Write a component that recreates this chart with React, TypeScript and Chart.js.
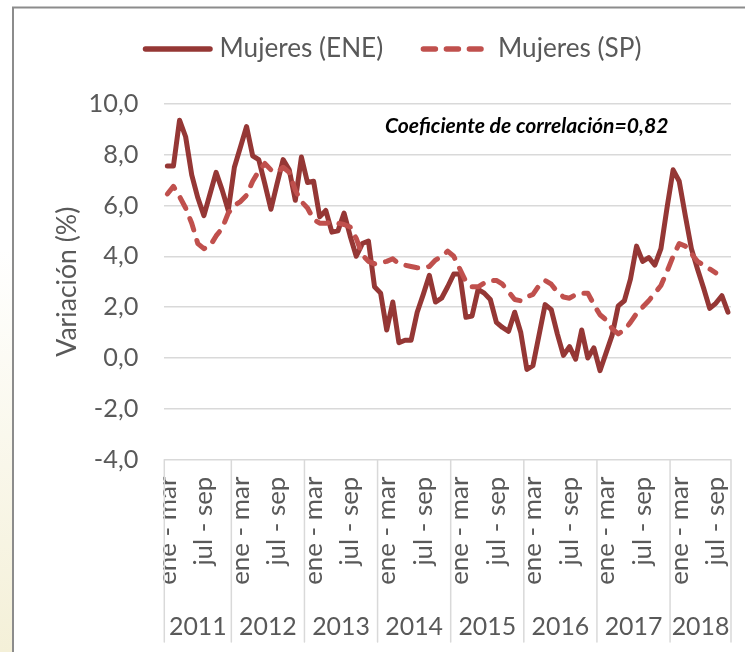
import React, { useEffect, useRef } from 'react';
import { Chart, registerables } from 'chart.js';

Chart.register(...registerables);

const FAMILY = 'Lato, "Open Sans", "DejaVu Sans", sans-serif';

// ---- data ----
const quarterNames = [
  'dic - feb', 'ene - mar', 'feb - abr', 'mar - may', 'abr - jun', 'may - jul',
  'jun - ago', 'jul - sep', 'ago - oct', 'sep - nov', 'oct - dic', 'nov - ene',
];
const years = ['2011', '2012', '2013', '2014', '2015', '2016', '2017', '2018'];
const firstQuarterOfYear = [1, 0, 0, 0, 0, 0, 0, 0];
const quartersInYear = [11, 12, 12, 12, 12, 12, 12, 10];
const shownTickLabels = ['ene - mar', 'jul - sep'];

const eneValues = [
  7.55, 7.55, 9.35, 8.7, 7.2, 6.3, 5.6, 6.45, 7.3, 6.6, 5.8,
  7.5, 8.3, 9.1, 7.95, 7.8, 6.85, 5.85, 6.85, 7.8, 7.4, 6.2, 7.9,
  6.9, 6.95, 5.55, 5.8, 4.95, 5.0, 5.7, 4.8, 4.0, 4.5, 4.6, 2.8,
  2.55, 1.1, 2.2, 0.6, 0.7, 0.7, 1.8, 2.5, 3.25, 2.2, 2.35, 2.8,
  3.3, 3.3, 1.6, 1.65, 2.7, 2.55, 2.3, 1.4, 1.2, 1.05, 1.8, 1.0,
  -0.45, -0.3, 0.9, 2.1, 1.9, 0.95, 0.1, 0.45, -0.05, 1.1, 0.0, 0.4,
  -0.5, 0.2, 0.9, 2.05, 2.25, 3.1, 4.4, 3.8, 3.95, 3.65, 4.3, 5.9,
  7.4, 6.95, 5.6, 4.3, 3.5, 2.75, 1.95, 2.15, 2.45, 1.8,
];
const spValues: (number | null)[] = [
  6.45, 6.75, 6.35, 5.9, 5.3, 4.5, 4.3, 4.4, 4.8, 5.1, 5.7,
  6.0, 6.15, 6.4, 6.95, 7.35, 7.65, 7.4, 7.3, 7.5, 7.3, 6.6, 6.15,
  5.9, 5.45, 5.3, 5.3, 5.35, 5.3, 5.25, 5.15, 4.7, 4.05, 3.8, 3.7,
  3.75, 3.8, 3.9, 3.7, 3.65, 3.6, 3.55, 3.55, 3.6, 3.85, 4.0, 4.2,
  4.0, 3.5, 3.0, 2.8, 2.8, 2.95, 3.05, 3.05, 2.9, 2.6, 2.3, 2.25,
  2.4, 2.5, 2.85, 3.05, 2.9, 2.6, 2.4, 2.35, 2.5, 2.55, 2.55, 2.1,
  1.7, 1.5, 1.15, 0.95, 1.1, 1.4, 1.75, 2.0, 2.25, 2.55, 2.85, 3.4,
  4.0, 4.5, 4.4, 4.1, 3.8, 3.65, 3.5, 3.35, null, null,
];
const yMin = -4;
const yMax = 10;
const yStep = 2;
const seriesNames = ['Mujeres (ENE)', 'Mujeres (SP)'];
const note = 'Coeficiente de correlación=0,82';
const yTitle = 'Variación (%)';

// categories built from the quarter / year lists
const categories: string[] = [];
const categoryYear: string[] = [];
years.forEach((y, yi) => {
  for (let k = 0; k < quartersInYear[yi]; k++) {
    categories.push(quarterNames[firstQuarterOfYear[yi] + k]);
    categoryYear.push(y);
  }
});

// ---- style ----
const ENE_COLOR = '#953735';
const SP_COLOR = '#C0504D';
const TEXT_COLOR = '#595959';
const GRID_COLOR = '#d9d9d9';

function fitSize(text: string, target: number, prefix = '') {
  const ctx = document.createElement('canvas').getContext('2d')!;
  ctx.font = `${prefix} 100px ${FAMILY}`;
  const m = ctx.measureText(text);
  const ink = (m.actualBoundingBoxLeft || 0) + (m.actualBoundingBoxRight || m.width);
  return (100 * target) / ink;
}

export default function App() {
  const ref = useRef<HTMLCanvasElement | null>(null);

  useEffect(() => {
    if (!ref.current) return;
    const yTickSize = fitSize('10,0', 47);
    const yTitleSize = fitSize(yTitle, 149);
    const xTickSize = fitSize('ene - mar', 107);
    const yearSize = fitSize('2011', 55);
    const legendSize = fitSize(seriesNames[0], 160.5);
    const noteSize = fitSize(note, 282, 'italic bold');

    const decor = {
      id: 'decor',
      beforeDraw(chart: any) {
        const { ctx, width, height } = chart;
        ctx.save();
        ctx.fillStyle = '#ffffff';
        ctx.fillRect(0, 0, width, height);
        const g = ctx.createLinearGradient(0, 250, 0, height);
        g.addColorStop(0, '#ffffff');
        g.addColorStop(1, '#f4f0d8');
        ctx.fillStyle = g;
        ctx.fillRect(0, 0, 12, height);
        ctx.strokeStyle = '#8c8c8c';
        ctx.lineWidth = 2;
        ctx.strokeRect(13, 7.5, 800, 800);
        ctx.restore();
      },
      afterDraw(chart: any) {
        const { ctx, chartArea } = chart;
        const xs = chart.scales.x;
        ctx.save();
        // legend
        const ly = 49;
        ctx.lineCap = 'round';
        ctx.lineWidth = 5.5;
        ctx.strokeStyle = ENE_COLOR;
        ctx.beginPath();
        ctx.moveTo(145.5, ly);
        ctx.lineTo(210, ly);
        ctx.stroke();
        ctx.strokeStyle = SP_COLOR;
        ctx.setLineDash([12, 11]);
        ctx.beginPath();
        ctx.moveTo(423.4, ly);
        ctx.lineTo(481, ly);
        ctx.stroke();
        ctx.setLineDash([]);
        ctx.fillStyle = TEXT_COLOR;
        ctx.font = `${legendSize}px ${FAMILY}`;
        ctx.textBaseline = 'middle';
        ctx.textAlign = 'left';
        ctx.fillText(seriesNames[0], 219.5, ly);
        ctx.fillText(seriesNames[1], 498, ly);
        // note
        ctx.fillStyle = '#000000';
        ctx.font = `italic bold ${noteSize}px ${FAMILY}`;
        ctx.textBaseline = 'alphabetic';
        ctx.fillText(note, 385, 133);
        // year groups
        const n = categories.length;
        const half = (xs.getPixelForValue(1) - xs.getPixelForValue(0)) / 2;
        ctx.strokeStyle = GRID_COLOR;
        ctx.lineWidth = 1.5;
        ctx.fillStyle = TEXT_COLOR;
        ctx.font = `${yearSize}px ${FAMILY}`;
        ctx.textAlign = 'center';
        let start = 0;
        years.forEach((y) => {
          let end = start;
          while (end < n && categoryYear[end] === y) end++;
          const x0 = xs.getPixelForValue(start) - half;
          const x1 = xs.getPixelForValue(end - 1) + half;
          ctx.beginPath();
          ctx.moveTo(x0, chartArea.bottom);
          ctx.lineTo(x0, 642);
          ctx.stroke();
          if (end === n) {
            ctx.beginPath();
            ctx.moveTo(x1, chartArea.bottom);
            ctx.lineTo(x1, 642);
            ctx.stroke();
          }
          ctx.fillText(y, (x0 + x1) / 2, 635);
          start = end;
        });
        ctx.restore();
      },
    };

    const chart = new Chart(ref.current, {
      type: 'line',
      data: {
        labels: categories,
        datasets: [
          {
            label: seriesNames[0],
            data: eneValues,
            borderColor: ENE_COLOR,
            backgroundColor: ENE_COLOR,
            borderWidth: 5,
            pointRadius: 0,
            tension: 0,
            fill: false,
            borderJoinStyle: 'round',
            borderCapStyle: 'round',
            order: 1,
          },
          {
            label: seriesNames[1],
            data: spValues,
            borderColor: SP_COLOR,
            backgroundColor: SP_COLOR,
            borderWidth: 5,
            borderDash: [12, 11],
            pointRadius: 0,
            tension: 0,
            fill: false,
            borderJoinStyle: 'round',
            borderCapStyle: 'round',
            order: 0,
          },
        ],
      },
      options: {
        responsive: false,
        animation: false,
        events: [],
        layout: { padding: { top: 103.7, right: 14, bottom: 0, left: 0 } },
        plugins: {
          legend: { display: false },
          tooltip: { enabled: false },
          title: { display: false },
        },
        scales: {
          x: {
            type: 'category',
            offset: true,
            grid: { display: false, drawTicks: false },
            border: { display: false },
            ticks: {
              autoSkip: false,
              minRotation: 90,
              maxRotation: 90,
              padding: 17,
              color: TEXT_COLOR,
              font: { family: FAMILY, size: xTickSize },
              callback: (_v: any, i: number) =>
                shownTickLabels.includes(categories[i]) ? categories[i] : null,
            },
            afterFit: (s: any) => {
              s.height = 652 - 459.7;
              s.paddingLeft = 0;
              s.paddingRight = 0;
            },
          },
          y: {
            min: yMin,
            max: yMax,
            grid: { color: GRID_COLOR, lineWidth: 1.5, drawTicks: false },
            border: { display: false },
            ticks: {
              stepSize: yStep,
              padding: 26,
              color: TEXT_COLOR,
              font: { family: FAMILY, size: yTickSize },
              callback: (v: any) => Number(v).toFixed(1).replace('.', ','),
            },
            title: {
              display: true,
              text: yTitle,
              color: TEXT_COLOR,
              font: { family: FAMILY, size: yTitleSize },
              padding: { top: 67 - (yTitleSize * 1.2) / 2, bottom: 0 },
            },
            afterFit: (s: any) => {
              s.width = 164.3;
              s.paddingTop = 0;
              s.paddingBottom = 0;
            },
          },
        },
      },
      plugins: [decor],
    });
    return () => chart.destroy();
  }, []);

  return (
    <div style={{ position: 'absolute', left: 0, top: 0, width: 745, height: 652 }}>
      <canvas ref={ref} width={745} height={652} style={{ display: 'block', width: 745, height: 652 }} />
    </div>
  );
}
